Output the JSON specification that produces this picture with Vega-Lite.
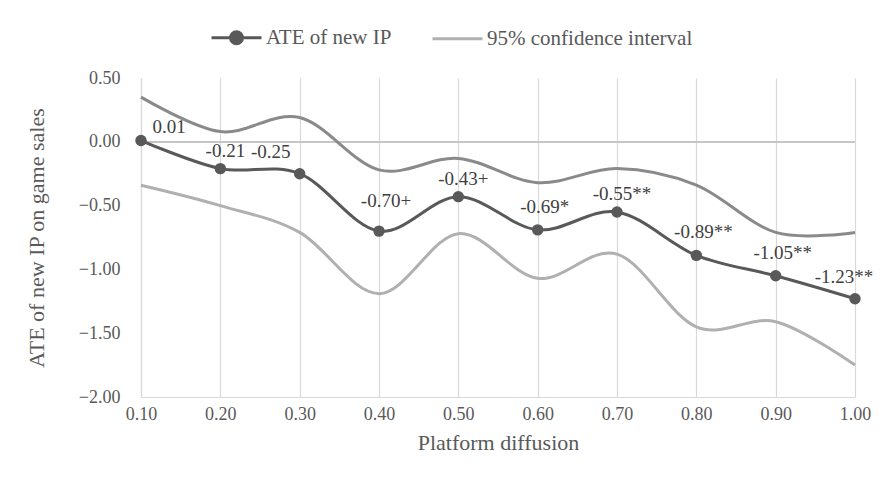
{
  "$schema": "https://vega.github.io/schema/vega-lite/v6.json",
  "width": 714,
  "height": 319,
  "autosize": {"type": "none"},
  "padding": {"left": 141, "top": 78, "right": 33, "bottom": 89},
  "background": "white",
  "config": {
    "font": "Liberation Serif",
    "view": {"stroke": null},
    "axis": {
      "labelFont": "Liberation Serif",
      "titleFont": "Liberation Serif",
      "labelColor": "#595959",
      "titleColor": "#595959",
      "labelFontSize": 18,
      "titleFontSize": 22,
      "titleFontWeight": "normal",
      "gridColor": "#d9d9d9",
      "gridWidth": 1.2,
      "domainColor": "#d9d9d9",
      "domainWidth": 1.2,
      "ticks": false,
      "labelFlush": false
    },
    "legend": {
      "labelFont": "Liberation Serif",
      "labelFontSize": 21,
      "labelColor": "#595959",
      "labelLimit": 400
    },
    "text": {"font": "Liberation Serif"}
  },
  "data": {
    "values": [
      {"x": 0.1, "ate": 0.01, "lo": -0.34, "hi": 0.35, "label": "0.01"},
      {"x": 0.2, "ate": -0.21, "lo": -0.50, "hi": 0.08, "label": "-0.21"},
      {"x": 0.3, "ate": -0.25, "lo": -0.71, "hi": 0.19, "label": "-0.25"},
      {"x": 0.4, "ate": -0.70, "lo": -1.19, "hi": -0.22, "label": "-0.70+"},
      {"x": 0.5, "ate": -0.43, "lo": -0.72, "hi": -0.13, "label": "-0.43+"},
      {"x": 0.6, "ate": -0.69, "lo": -1.07, "hi": -0.32, "label": "-0.69*"},
      {"x": 0.7, "ate": -0.55, "lo": -0.88, "hi": -0.21, "label": "-0.55**"},
      {"x": 0.8, "ate": -0.89, "lo": -1.45, "hi": -0.34, "label": "-0.89**"},
      {"x": 0.9, "ate": -1.05, "lo": -1.41, "hi": -0.71, "label": "-1.05**"},
      {"x": 1.0, "ate": -1.23, "lo": -1.75, "hi": -0.71, "label": "-1.23**"}
    ]
  },
  "encoding": {
    "x": {
      "field": "x", "type": "quantitative",
      "scale": {"domain": [0.1, 1.0], "nice": false, "zero": false},
      "axis": {"values": [0.1, 0.2, 0.3, 0.4, 0.5, 0.6, 0.7, 0.8, 0.9, 1.0], "format": ".2f", "title": "Platform diffusion", "labelPadding": 8, "titlePadding": 9, "labelFont": "Liberation Serif", "titleFont": "Liberation Serif", "labelFlush": false}
    }
  },
  "layer": [
    {
      "mark": {"type": "rule", "color": "#c6c6c6", "strokeWidth": 1.2},
      "encoding": {"y": {"datum": 0, "type": "quantitative"}, "x": null}
    },
    {
      "mark": {"type": "line", "interpolate": "cardinal", "color": "#8a8a8a", "strokeWidth": 3},
      "encoding": {
        "y": {
          "field": "hi", "type": "quantitative",
          "scale": {"domain": [-2, 0.5], "nice": false},
          "axis": {"values": [0.5, 0, -0.5, -1, -1.5, -2], "format": ".2f", "title": "ATE of new IP on game sales", "labelPadding": 21, "titlePadding": 30, "labelFont": "Liberation Serif", "titleFont": "Liberation Serif"}
        }
      }
    },
    {
      "mark": {"type": "line", "interpolate": "cardinal", "strokeWidth": 3},
      "encoding": {
        "y": {"field": "lo", "type": "quantitative"},
        "color": {
          "datum": "95% confidence interval",
          "scale": {"domain": ["ATE of new IP", "95% confidence interval"], "range": ["#595959", "#b0b0b0"]},
          "legend": {
            "orient": "none", "legendX": 69, "legendY": -67, "direction": "horizontal", "title": null,
            "symbolSize": 2500, "symbolStrokeWidth": 3, "columnPadding": 34, "labelOffset": 3,
            "labelFont": "Liberation Serif", "labelLimit": 400,
            "encode": {
              "symbols": {
                "update": {
                  "shape": {"signal": "datum.value == 'ATE of new IP' ? 'M-1,0H1M-0.24,0A0.24,0.24 0 1,0 0.24,0A0.24,0.24 0 1,0 -0.24,0Z' : 'M-1,0H1'"},
                  "fill": {"signal": "datum.value == 'ATE of new IP' ? '#595959' : 'transparent'"}
                }
              }
            }
          }
        }
      }
    },
    {
      "mark": {"type": "line", "interpolate": "cardinal", "strokeWidth": 3},
      "encoding": {
        "y": {"field": "ate", "type": "quantitative"},
        "color": {"datum": "ATE of new IP"}
      }
    },
    {
      "mark": {"type": "point", "filled": true, "opacity": 1, "size": 130, "color": "#595959"},
      "encoding": {"y": {"field": "ate", "type": "quantitative"}}
    },
    {
      "transform": [{"filter": "datum.x > 0.55 && datum.x < 0.65 || datum.x > 0.75 && datum.x < 0.95"}],
      "mark": {"type": "text", "fontSize": 19, "color": "#404040", "dx": 7, "dy": -23},
      "encoding": {"y": {"field": "ate", "type": "quantitative"}, "text": {"field": "label"}}
    },
    {
      "transform": [{"filter": "datum.x > 0.15 && datum.x < 0.25 || datum.x > 0.45 && datum.x < 0.55 || datum.x > 0.65 && datum.x < 0.75"}],
      "mark": {"type": "text", "fontSize": 19, "color": "#404040", "dx": 5, "dy": -18},
      "encoding": {"y": {"field": "ate", "type": "quantitative"}, "text": {"field": "label"}}
    },
    {
      "transform": [{"filter": "datum.x > 0.35 && datum.x < 0.45"}],
      "mark": {"type": "text", "fontSize": 19, "color": "#404040", "dx": 7, "dy": -30},
      "encoding": {"y": {"field": "ate", "type": "quantitative"}, "text": {"field": "label"}}
    },
    {
      "transform": [{"filter": "datum.x < 0.15"}],
      "mark": {"type": "text", "fontSize": 19, "color": "#404040", "dx": 28, "dy": -14},
      "encoding": {"y": {"field": "ate", "type": "quantitative"}, "text": {"field": "label"}}
    },
    {
      "transform": [{"filter": "datum.x > 0.25 && datum.x < 0.35"}],
      "mark": {"type": "text", "fontSize": 19, "color": "#404040", "dx": -29, "dy": -22},
      "encoding": {"y": {"field": "ate", "type": "quantitative"}, "text": {"field": "label"}}
    },
    {
      "transform": [{"filter": "datum.x > 0.95"}],
      "mark": {"type": "text", "fontSize": 19, "color": "#404040", "dx": -11, "dy": -22},
      "encoding": {"y": {"field": "ate", "type": "quantitative"}, "text": {"field": "label"}}
    }
  ]
}
